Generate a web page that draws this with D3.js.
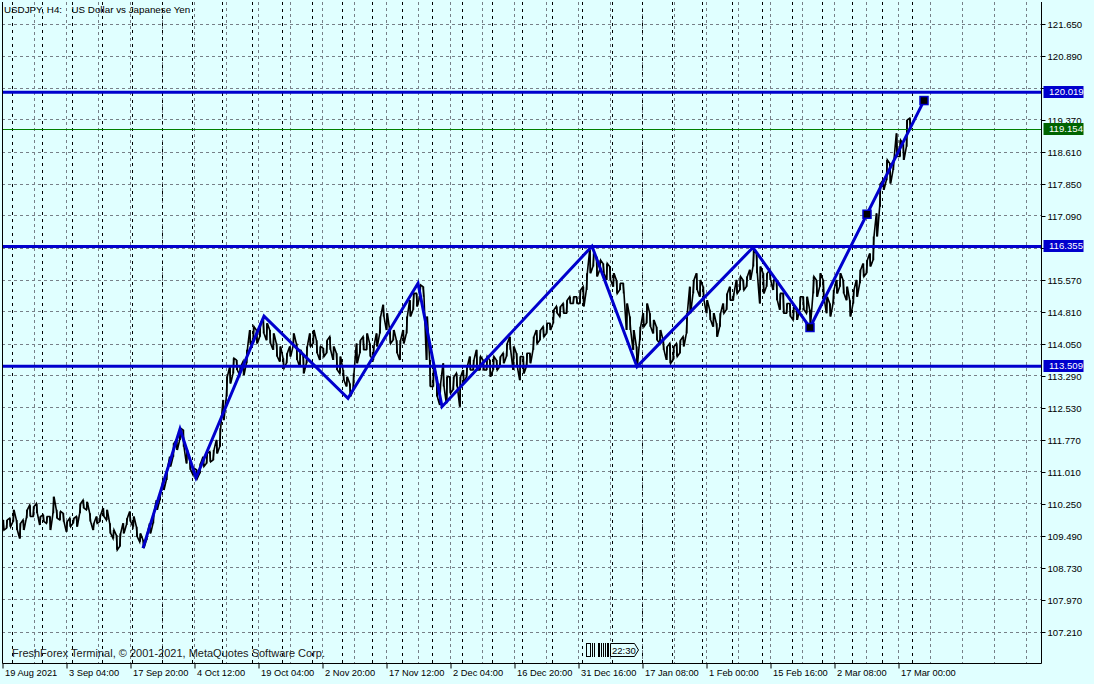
<!DOCTYPE html>
<html><head><meta charset="utf-8">
<script src="https://cdn.jsdelivr.net/npm/d3@7"></script>
<style>
html,body{margin:0;padding:0;background:#E0FFFF;}
svg{display:block;}
</style></head><body>
<svg id="chart" width="1094" height="684"></svg>
<script>
// ---------- DATA ----------
const titleSymbol = "USDJPY, H4:";
const titleName = "US Dollar vs Japanese Yen";
const copyrightText = "FreshForex Terminal, \u00A9 2001-2021, MetaQuotes Software Corp.";
const countdownText = "22:30";

const timeLabels = ["19 Aug 2021","3 Sep 04:00","17 Sep 20:00","4 Oct 12:00","19 Oct 04:00",
  "2 Nov 20:00","17 Nov 12:00","2 Dec 04:00","16 Dec 20:00","31 Dec 16:00","17 Jan 08:00",
  "1 Feb 00:00","15 Feb 16:00","2 Mar 08:00","17 Mar 00:00"];
const barsPerTimeLabel = 64;

const priceTicks = [121.650,120.890,120.130,119.370,118.610,117.850,117.090,116.330,115.570,
  114.810,114.050,113.290,112.530,111.770,111.010,110.250,109.490,108.730,107.970,107.210];

// weekly period separators (bar index of week start)
const weekStartBars = [10,40,70,100,130,160,190,220,250,280,310,340,370,400,430,460,490,520,
  550,580,610,640,670,700,730,760,790,820,850,880,910];

// price samples: one every 10/3 H4 bars, starting at bar 1
const firstSampleBar = 1;
const barsPerSample = 10 / 3;
const sampleHigh = [
109.86,109.86,109.90,110.10,109.86,109.78,109.86,110.10,110.21,110.18,
110.25,109.94,109.98,109.94,109.94,110.41,110.10,110.06,110.02,109.82,
109.90,109.90,109.94,110.25,110.33,110.29,110.02,109.78,109.94,109.98,
110.14,110.10,109.78,109.62,109.50,109.54,109.78,109.90,110.06,109.94,
109.70,109.54,109.38,109.54,109.78,110.02,110.33,110.49,110.81,111.05,
111.36,111.68,111.76,112.04,112.00,111.52,111.28,111.09,111.05,111.20,
111.36,111.44,111.48,111.52,111.76,112.04,112.71,113.26,113.50,113.70,
113.66,113.50,113.62,113.90,114.37,114.45,114.37,114.53,114.65,114.53,
114.37,114.29,114.05,113.98,113.70,113.82,113.98,114.29,114.05,113.90,
113.78,113.98,114.29,114.37,114.13,113.98,113.94,114.13,114.21,113.98,
113.82,113.74,113.42,113.26,113.10,113.34,114.05,114.13,114.21,114.29,
114.05,113.98,114.29,114.69,114.97,114.77,114.37,114.37,114.13,114.13,
114.37,114.69,115.08,115.24,115.24,115.44,115.40,114.69,113.66,113.58,
113.26,113.10,113.58,113.26,113.26,113.26,113.34,113.26,113.42,113.50,
113.74,113.66,113.90,113.74,113.66,113.74,113.66,113.74,113.66,113.74,
113.82,114.05,114.21,113.98,113.82,113.74,113.74,113.82,113.82,114.21,
114.37,114.37,114.45,114.53,114.53,114.85,114.93,114.93,115.00,115.08,
115.16,115.16,115.16,115.32,115.40,115.72,116.27,116.19,116.11,116.03,
115.95,115.95,115.88,115.72,115.56,115.48,115.48,115.00,114.69,114.37,
113.98,114.45,114.77,115.00,114.77,114.61,114.45,
114.37,114.13,113.98,114.05,113.98,114.05,114.13,114.21,114.77,115.40,
115.56,115.72,115.56,115.40,115.08,114.85,114.77,114.53,114.77,115.00,
115.24,115.40,115.24,115.56,115.64,115.56,115.64,115.80,116.27,116.19,
115.88,115.72,115.72,115.80,115.56,115.56,115.24,115.24,115.00,115.00,
114.92,114.85,115.16,115.16,115.16,114.85,115.64,115.56,115.72,115.56,
115.16,115.00,115.32,115.56,115.72,115.56,115.40,115.08,115.32,115.56,
115.80,115.95,116.03,116.19,116.59,117.14,117.85,117.93,118.41,118.33,
118.41,119.04,118.88,118.80,119.36,119.40];
const sampleLow = [
109.62,109.66,109.70,109.82,109.62,109.42,109.62,109.90,109.94,109.94,
110.02,109.74,109.82,109.78,109.62,110.02,109.90,109.86,109.82,109.58,
109.70,109.78,109.70,110.02,110.14,110.10,109.82,109.62,109.78,109.82,
109.94,109.86,109.54,109.42,109.15,109.23,109.54,109.74,109.82,109.70,
109.46,109.34,109.19,109.38,109.54,109.78,110.10,110.33,110.57,110.81,
111.13,111.36,111.52,111.76,111.60,111.20,111.05,110.93,110.85,110.97,
111.13,111.20,111.24,111.28,111.44,111.60,112.23,112.79,113.10,113.34,
113.42,113.30,113.30,113.58,114.05,114.13,114.05,114.21,114.29,114.13,
114.05,113.90,113.74,113.62,113.46,113.58,113.74,113.98,113.66,113.50,
113.34,113.58,113.98,114.05,113.82,113.66,113.74,113.82,113.90,113.66,
113.42,113.34,113.18,113.03,112.79,112.95,113.58,113.82,113.90,113.90,
113.74,113.66,113.98,114.29,114.69,114.37,114.05,114.13,113.82,113.66,
114.05,114.29,114.69,114.85,114.93,115.16,115.16,113.66,113.03,113.03,
112.79,112.59,113.03,112.63,112.87,112.95,113.03,112.55,113.10,113.26,
113.42,113.42,113.42,113.42,113.42,113.42,113.26,113.42,113.42,113.50,
113.58,113.74,113.90,113.42,113.50,113.18,113.34,113.50,113.58,113.90,
114.05,114.13,114.21,114.29,114.37,114.53,114.77,114.69,114.77,114.77,
115.00,115.00,115.00,115.00,114.93,115.32,115.72,115.88,115.64,115.80,
115.72,115.56,115.56,115.40,115.24,115.32,115.24,114.37,114.37,113.90,
113.50,114.13,114.45,114.53,114.45,114.29,114.13,
114.05,113.90,113.66,113.58,113.66,113.74,113.82,113.98,114.29,114.77,
115.24,115.32,115.16,115.08,114.77,114.61,114.45,114.21,114.45,114.77,
114.85,115.08,115.08,115.24,115.32,115.32,115.40,115.56,115.88,115.72,
115.00,115.24,115.40,115.56,115.32,115.08,114.85,114.77,114.77,114.69,
114.61,114.61,114.85,114.85,114.77,114.53,115.24,115.16,115.40,115.16,
114.77,114.69,115.00,115.24,115.40,115.24,115.08,114.69,115.00,115.16,
115.48,115.64,115.72,115.88,116.03,116.59,117.30,117.70,117.93,117.85,
118.17,118.49,118.49,118.41,118.72,119.12];

// ZigZag vertices
const zigzagBars   = [141, 178, 194, 262, 346, 416, 440, 590, 635, 751, 808, 922];
const zigzagPrices = [109.19,112.02,110.86,114.70,112.75,115.48,112.55,116.36,113.50,116.33,114.43,119.82];
// pattern markers
const markerBars   = [808, 865, 922];
const markerPrices = [114.43, 117.12, 119.82];

// horizontal levels
const levelPrices = [120.019, 116.355, 113.509];
const bidPrice = 119.154;

// ---------- DRAW ----------
const W = 1094, H = 684;
const plotLeft = 2, plotRight = 1041, plotTop = 2, plotBottom = 663;
const svg = d3.select("#chart");
const BLUE = "#0000CD", GRID = "#778088";
const FONT = "Liberation Sans, Arial, sans-serif";

const x = d3.scaleLinear().domain([0, plotRight - plotLeft]).range([plotLeft, plotRight]);
const y = d3.scaleLinear().domain([121.65, 107.21]).range([23.5, 631.5]);

svg.append("rect").attr("width", W).attr("height", H).attr("fill", "#E0FFFF");

const g = svg.append("g");
// horizontal grid
g.selectAll("line.hg").data(priceTicks).join("line")
  .attr("x1", plotLeft).attr("x2", plotRight)
  .attr("y1", d => Math.round(y(d)) + 0.5).attr("y2", d => Math.round(y(d)) + 0.5)
  .attr("stroke", GRID).attr("stroke-dasharray", "3,3").attr("stroke-width", 1);
// vertical grid (every half time-label)
const vGrid = d3.range(0, (plotRight - plotLeft), barsPerTimeLabel / 2);
g.selectAll("line.vg").data(vGrid).join("line")
  .attr("x1", d => Math.round(x(d)) + 0.5).attr("x2", d => Math.round(x(d)) + 0.5)
  .attr("y1", plotTop).attr("y2", plotBottom)
  .attr("stroke", GRID).attr("stroke-dasharray", "3,3").attr("stroke-width", 1);
// period separators
g.selectAll("line.sep").data(weekStartBars).join("line")
  .attr("x1", d => Math.round(x(d)) + 0.5).attr("x2", d => Math.round(x(d)) + 0.5)
  .attr("y1", plotTop).attr("y2", plotBottom)
  .attr("stroke", "#000").attr("stroke-dasharray", "3,4").attr("stroke-width", 1);

// price series
const pts = [];
sampleHigh.forEach((h, i) => {
  const bx = x(firstSampleBar + i * barsPerSample);
  const lo = sampleLow[i];
  if (i % 2 === 0) { pts.push([bx, y(h)], [bx + 1, y(lo)]); }
  else { pts.push([bx, y(lo)], [bx + 1, y(h)]); }
});
svg.append("path").attr("d", d3.line()(pts))
  .attr("fill", "none").attr("stroke", "#000").attr("stroke-width", 1.6)
  .attr("stroke-linejoin", "miter");
svg.selectAll("line.bar").data(sampleHigh).join("line")
  .attr("x1", (d, i) => x(firstSampleBar + i * barsPerSample) + 0.5)
  .attr("x2", (d, i) => x(firstSampleBar + i * barsPerSample) + 0.5)
  .attr("y1", d => y(d)).attr("y2", (d, i) => y(sampleLow[i]))
  .attr("stroke", "#000").attr("stroke-width", 1.5);

// levels
svg.selectAll("line.lvl").data(levelPrices).join("line")
  .attr("x1", plotLeft).attr("x2", plotRight)
  .attr("y1", d => y(d)).attr("y2", d => y(d))
  .attr("stroke", BLUE).attr("stroke-width", 3);
svg.append("line").attr("x1", plotLeft).attr("x2", plotRight)
  .attr("y1", Math.round(y(bidPrice)) + 0.5).attr("y2", Math.round(y(bidPrice)) + 0.5)
  .attr("stroke", "#008000").attr("stroke-width", 1);

// zigzag
svg.append("path")
  .attr("d", d3.line()(zigzagBars.map((b, i) => [x(b), y(zigzagPrices[i])])))
  .attr("fill", "none").attr("stroke", BLUE).attr("stroke-width", 3)
  .attr("stroke-linejoin", "miter");
svg.selectAll("rect.mk").data(markerBars).join("rect")
  .attr("x", d => x(d) - 4).attr("y", (d, i) => y(markerPrices[i]) - 4)
  .attr("width", 8).attr("height", 8)
  .attr("fill", "#000").attr("stroke", BLUE).attr("stroke-width", 1.5);

// frame
svg.append("path")
  .attr("d", `M${plotLeft + 0.5},${plotTop}V${plotBottom + 0.5}H${plotRight + 0.5}V${plotTop}`)
  .attr("fill", "none").attr("stroke", "#000").attr("stroke-width", 1);

// right price axis (labels fully covered by a level box are not shown, as in the terminal)
const boxPrices = levelPrices.concat([bidPrice]);
const hidden = d => boxPrices.some(p => Math.abs(y(p) - y(d)) < 3);
const yAxis = d3.axisRight(y).tickValues(priceTicks).tickSize(4).tickPadding(2)
  .tickFormat(d => hidden(d) ? "" : d3.format(".3f")(d));
const ya = svg.append("g").attr("transform", `translate(${plotRight + 0.5},0.5)`).call(yAxis);
ya.select(".domain").remove();
ya.selectAll("line").attr("stroke", "#000");
ya.selectAll("text").attr("font-family", FONT).attr("font-size", "9.6px").attr("fill", "#000");

// bottom time axis
const xAxis = d3.axisBottom(x).tickValues(timeLabels.map((d, i) => i * barsPerTimeLabel))
  .tickSize(5).tickFormat((d, i) => timeLabels[i]);
const xa = svg.append("g").attr("transform", `translate(0.5,${plotBottom + 0.5})`).call(xAxis);
xa.select(".domain").remove();
xa.selectAll("line").attr("stroke", "#000");
xa.selectAll("text").attr("text-anchor", "start").attr("dx", "2px").attr("dy", "0.5em")
  .attr("font-family", FONT).attr("font-size", "9.3px").attr("fill", "#000");

// level label boxes
const boxes = levelPrices.map(p => ({p, fill: BLUE})).concat([{p: bidPrice, fill: "#006400"}]);
const bx = svg.selectAll("g.box").data(boxes).join("g")
  .attr("transform", d => `translate(${plotRight + 2.5},${Math.round(y(d.p))})`);
bx.append("rect").attr("x", 0).attr("y", -6).attr("width", 40).attr("height", 12)
  .attr("fill", d => d.fill);
bx.append("text").attr("x", 5.5).attr("y", 0).attr("dy", "0.35em")
  .attr("font-family", FONT).attr("font-size", "9.6px")
  .attr("fill", "#fff").text(d => d3.format(".3f")(d.p));

// title
svg.append("text").attr("x", 4).attr("y", 12.5)
  .attr("font-family", FONT).attr("font-size", "9.8px").attr("fill", "#000").text(titleSymbol);
svg.append("text").attr("x", 71.5).attr("y", 12.5)
  .attr("font-family", FONT).attr("font-size", "9.8px").attr("fill", "#000").text(titleName);

// copyright
svg.append("text").attr("x", 12).attr("y", 657)
  .attr("font-family", FONT).attr("font-size", "11px").attr("fill", "#202020").text(copyrightText);

// countdown widget
const cw = svg.append("g").attr("transform", "translate(586,643)");
cw.append("rect").attr("x", 0.5).attr("y", 0.5).attr("width", 4).attr("height", 13)
  .attr("fill", "none").attr("stroke", "#000");
[6, 8, 12, 13, 15, 17, 19, 21, 22].forEach(dx => {
  cw.append("line").attr("x1", dx + 0.5).attr("x2", dx + 0.5).attr("y1", 0).attr("y2", 14)
    .attr("stroke", "#000");
});
cw.append("path").attr("d", "M24.5,0.5H48.5L52.5,7L48.5,13.5H24.5Z")
  .attr("fill", "#E0FFFF").attr("stroke", "#000");
cw.append("text").attr("x", 26).attr("y", 11)
  .attr("font-family", FONT).attr("font-size", "9.5px").attr("fill", "#000").text(countdownText);
</script>
</body></html>
